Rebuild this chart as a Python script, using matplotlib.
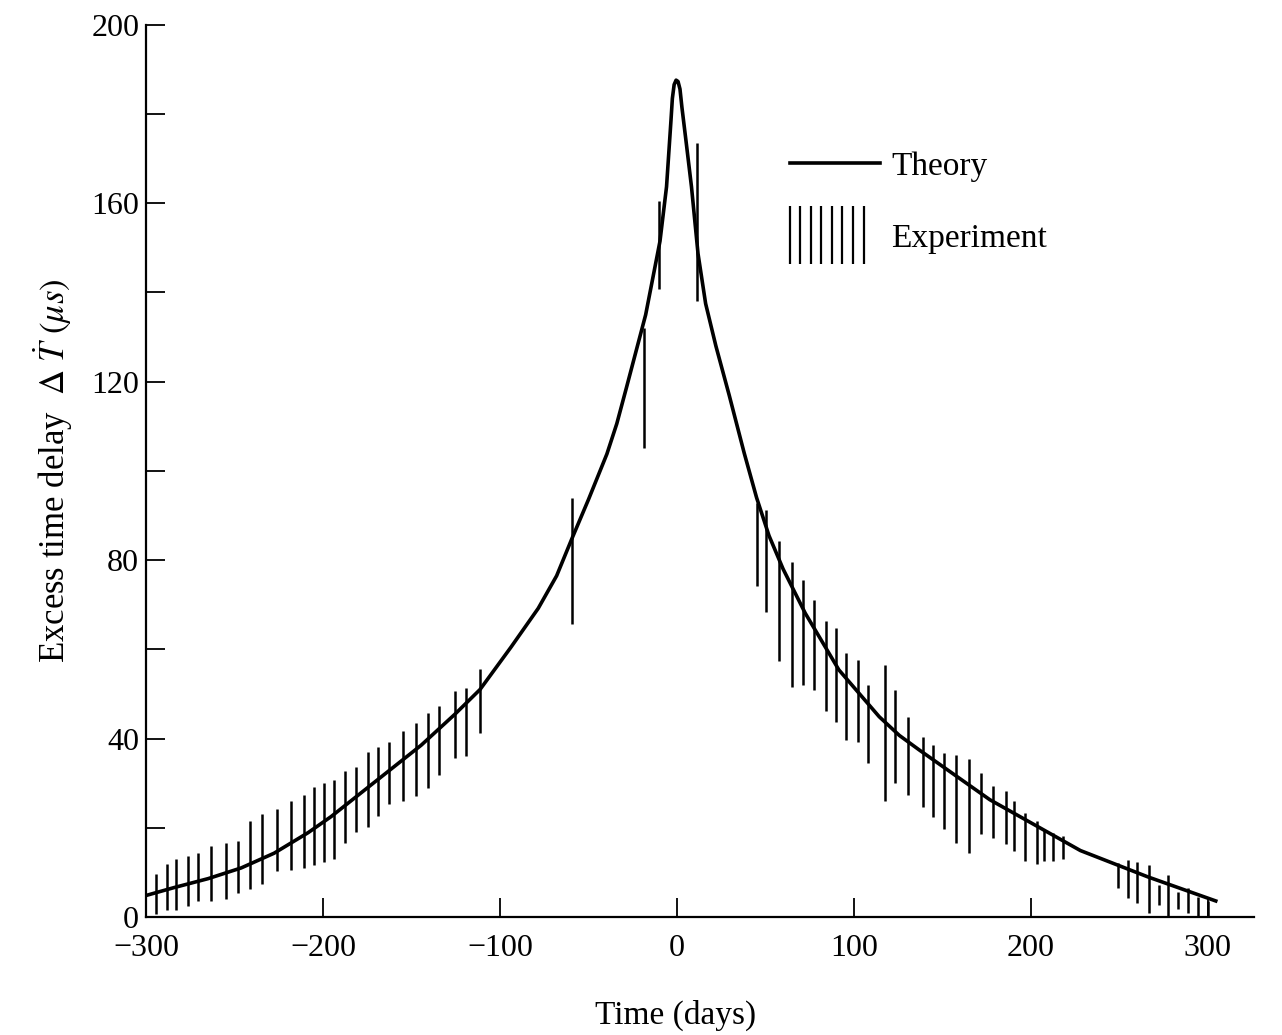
import matplotlib
matplotlib.use("Agg")
import matplotlib.pyplot as plt
import numpy as np
from matplotlib.legend_handler import HandlerBase
from matplotlib.collections import LineCollection
from matplotlib.lines import Line2D
from matplotlib.patches import Patch

plt.rcParams['font.family'] = ['Liberation Serif', 'DejaVu Serif']
plt.rcParams['mathtext.fontset'] = 'stix'

# theory curve
theory_days = [-299.4, -284.2, -265.0, -246.3, -227.7, -208.5, -195.5, -144.6,
               -125.4, -111.3, -93.8, -78.4, -68.0, -59.5, -50.0, -39.6, -34.0, -28.6,
               -17.7, -9.6, -5.9,
               -3.4, -2.6, -1.6, -0.5, 0.6, 1.7, 2.8, 5.1, 8.2, 11.9, 16.2, 22.0,
               29.5, 38.0, 45.0, 52.0, 60.0, 72.5, 91.5, 114.3, 125.7, 137.1, 176.8, 228.0,
               266.1, 304.5]
theory_delay = [4.9, 6.6, 8.6, 11.0, 14.3, 18.9, 22.5, 38.5,
                45.5, 51.0, 60.5, 69.2, 76.5, 84.7, 93.6, 103.8, 110.6, 118.6,
                135.0, 151.5, 163.7,
                178.5, 183.5, 186.6, 187.6, 187.3, 185.6, 181.5, 174.0, 163.7, 148.7, 137.5, 128.0,
                117.0, 104.0, 94.0, 85.5, 78.0, 68.1, 55.4, 44.9, 40.7, 37.4, 26.3, 14.9,
                9.0, 3.6]

# experiment: error bar extents
exp_days = [-294.4, -288.1, -283.1, -276.3, -270.6, -263.3, -254.8, -248.0, -241.2, -234.5,
            -226.0, -218.1, -210.7, -205.1, -199.4, -193.8, -187.6, -181.4, -174.6, -168.9,
            -162.7, -154.8, -147.5, -140.7, -134.5, -125.4, -119.2, -111.3,
            -59.6, -18.8, -10.0, 11.4,
            45.0, 50.2, 57.7, 65.2, 71.5, 77.2, 84.2, 89.8, 95.7, 102.3,
            108.1, 117.5, 123.3, 130.8, 138.9, 144.6, 150.8, 157.6, 165.0, 171.8,
            178.5, 185.9, 190.4, 196.9, 203.2, 207.7, 212.8, 217.9,
            249.5, 255.0, 260.1, 266.7, 272.3, 277.4, 283.1, 288.7, 294.4, 300.0]
exp_high = [9.7, 11.9, 13.1, 13.6, 14.3, 15.9, 16.6, 17.1, 21.6, 23.2,
            24.2, 26.0, 27.4, 29.2, 30.1, 30.8, 32.7, 33.6, 37.0, 38.2,
            39.3, 41.6, 43.4, 45.7, 47.3, 50.7, 51.4, 55.7,
            94.0, 132.1, 160.5, 173.4,
            92.7, 91.3, 84.2, 79.5, 75.5, 71.0, 66.3, 64.8, 59.2, 57.7,
            52.1, 56.4, 50.8, 44.8, 40.3, 38.6, 36.8, 36.4, 35.5, 32.2,
            29.3, 28.2, 26.0, 23.3, 21.6, 19.8, 18.9, 18.2,
            12.1, 12.8, 12.3, 11.7, 7.2, 9.5, 5.7, 6.6, 4.4, 3.6]
exp_low = [0.7, 1.6, 1.6, 2.4, 3.5, 3.6, 4.0, 5.4, 6.3, 7.5,
           10.4, 10.5, 11.0, 11.7, 12.4, 12.9, 16.7, 19.0, 20.2, 22.6,
           25.4, 25.9, 27.2, 28.9, 31.8, 35.7, 36.1, 41.3,
           65.6, 105.2, 140.7, 138.1,
           74.2, 68.4, 57.4, 51.6, 52.0, 50.8, 46.1, 43.7, 39.6, 39.2,
           34.6, 26.1, 30.1, 27.3, 24.6, 22.4, 19.7, 16.6, 14.4, 18.7,
           17.8, 16.3, 14.7, 12.5, 11.9, 12.6, 12.6, 13.1,
           6.4, 4.2, 3.1, 0.9, 2.7, 0.0, 1.7, 1.0, 0.0, 0.0]

x_ticks = [-300, -200, -100, 0, 100, 200, 300]
x_labels = ['\u2212300', '\u2212200', '\u2212100', '0', '100', '200', '300']
y_ticks = [0, 40, 80, 120, 160, 200]
y_minor = [20, 60, 100, 140, 180]


class BarsHandler(HandlerBase):
    # legend key: a little row of vertical bars
    def create_artists(self, legend, orig_handle, xdescent, ydescent,
                       width, height, fontsize, trans):
        xs = np.linspace(0, width * 0.82, 8) - xdescent
        segs = [[(x, -ydescent - 0.75 * height), (x, -ydescent + 1.75 * height)] for x in xs]
        lc = LineCollection(segs, colors='black', linewidths=1.6, transform=trans)
        return [lc]


fig = plt.figure(figsize=(12.82, 10.35), dpi=100)
ax = fig.add_axes([0.114, 0.114, 0.864, 0.862])

ax.vlines(exp_days, exp_low, exp_high, color='black', linewidth=1.8)
ax.plot(theory_days, theory_delay, color='black', linewidth=2.6,
        solid_joinstyle='round')

ax.set_xlim(-300, 326)
ax.set_ylim(0, 200)
ax.spines['top'].set_visible(False)
ax.spines['right'].set_visible(False)
ax.spines['left'].set_linewidth(1.6)
ax.spines['bottom'].set_linewidth(1.6)

ax.set_xticks(x_ticks)
ax.set_xticklabels(x_labels)
ax.set_yticks(y_ticks)
ax.set_yticks(y_minor, minor=True)
ax.tick_params(axis='both', which='both', direction='in', length=14, width=1.3,
               labelsize=23)
ax.tick_params(axis='x', pad=12)
ax.tick_params(axis='y', pad=5)

ax.set_xlabel('Time (days)', fontsize=24)
ax.xaxis.set_label_coords(0.478, -0.093)
ax.set_ylabel(r'Excess time delay  $\Delta\ \dot{T}\ (\mu s)$', fontsize=25, labelpad=12)

theory_h = Line2D([], [], color='black', linewidth=2.6)
exp_h = Patch()
ax.legend([theory_h, exp_h], ['Theory', 'Experiment'],
          handler_map={Patch: BarsHandler()},
          loc='upper left', bbox_to_anchor=(0.566, 0.877),
          frameon=False, fontsize=24, handlelength=2.7, handletextpad=0.35,
          labelspacing=1.25, borderpad=0)

fig.savefig('out.png', dpi=100)
